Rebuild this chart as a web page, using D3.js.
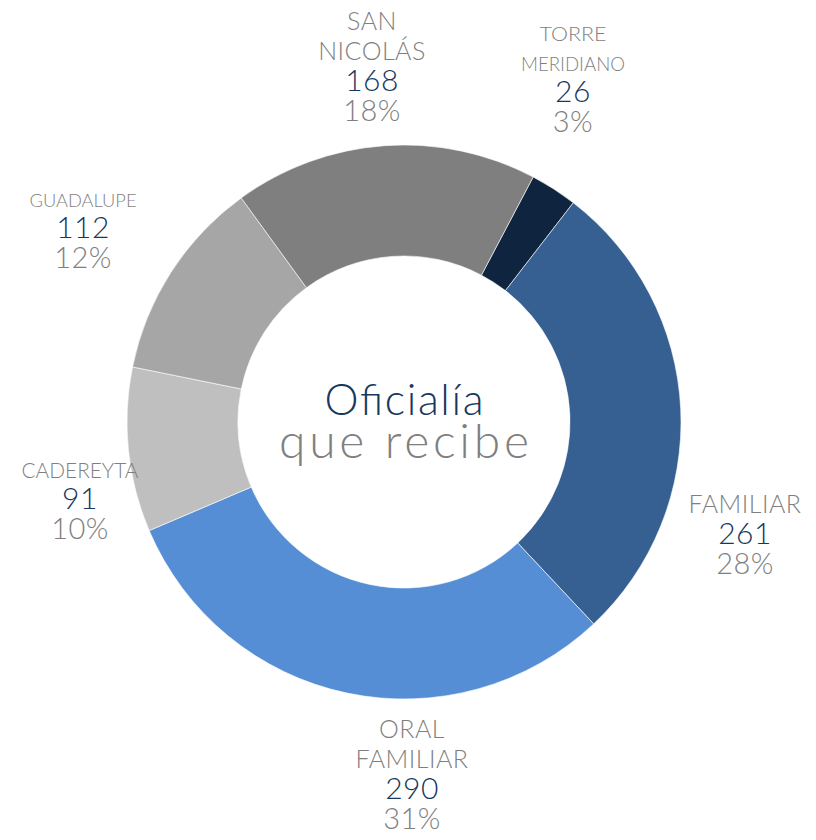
<!DOCTYPE html>
<html>
<head>
<meta charset="utf-8">
<script src="https://cdn.jsdelivr.net/npm/d3@7"></script>
<style>
  body { margin: 0; background: #fff; }
  svg { display: block; font-family: Lato, "Open Sans", sans-serif; font-weight: 300; }
</style>
</head>
<body>
<div class="root"></div>
<script>
// oficialias, clockwise from the first slice
var categories = ['TORRE MERIDIANO', 'FAMILIAR', 'ORAL FAMILIAR', 'CADEREYTA', 'GUADALUPE', 'SAN NICOLÁS'];
var values = [26, 261, 290, 91, 112, 168];
var percents = ['3%', '28%', '31%', '10%', '12%', '18%'];
var nameLines = [['TORRE', 'MERIDIANO'], ['FAMILIAR'], ['ORAL', 'FAMILIAR'], ['CADEREYTA'], ['GUADALUPE'], ['SAN', 'NICOLÁS']];
var colors = ['#0f243e', '#376092', '#558ed5', '#bfbfbf', '#a6a6a6', '#7f7f7f'];

// where each label block sits (x centre, baseline of first line), font size of the name, squeezed width
var labelLayout = [
  { x: 573, y: 41, size: 19, fit: [67, 104] },
  { x: 745, y: 513, size: 25 },
  { x: 412, y: 738, size: 25 },
  { x: 80, y: 478, size: 22, fit: [117] },
  { x: 83, y: 207, size: 18, fit: [107] },
  { x: 372, y: 30, size: 25 }
];

var w = 816, h = 840;
var cx = 404, cy = 422;
var outerR = 277, innerR = 166;

var svg = d3.select('.root').append('svg')
  .attr('width', w)
  .attr('height', h);

var pie = d3.pie()
  .sort(null)
  .startAngle(27.8 * Math.PI / 180)
  .endAngle((27.8 + 360) * Math.PI / 180)
  .value(function(d) { return d; });

var arc = d3.arc()
  .innerRadius(innerR)
  .outerRadius(outerR);

var g = svg.append('g').attr('transform', 'translate(' + cx + ',' + cy + ')');

g.selectAll('path')
  .data(pie(values))
  .enter().append('path')
    .attr('d', arc)
    .attr('fill', function(d, i) { return colors[i]; })
    .attr('stroke', '#fff')
    .attr('stroke-width', 0.6);

// centre title
g.append('text')
  .attr('text-anchor', 'middle')
  .attr('y', -7)
  .attr('fill', '#17375e')
  .attr('textLength', 159)
  .attr('lengthAdjust', 'spacing')
  .style('font-size', '43px')
  .text('Oficialía');
g.append('text')
  .attr('text-anchor', 'middle')
  .attr('y', 36)
  .attr('fill', '#7f7f7f')
  .attr('textLength', 250)
  .attr('lengthAdjust', 'spacing')
  .style('font-size', '48px')
  .text('que recibe');

// data labels
var labels = svg.append('g')
  .selectAll('g')
  .data(categories)
  .enter().append('g')
    .attr('transform', function(d, i) { return 'translate(' + labelLayout[i].x + ',' + labelLayout[i].y + ')'; })
    .attr('text-anchor', 'middle');

labels.each(function(d, i) {
  var el = d3.select(this);
  var L = labelLayout[i];
  var lines = nameLines[i];
  lines.forEach(function(line, k) {
    var t = el.append('text')
      .attr('y', k * 30)
      .attr('fill', '#7f7f7f')
      .style('font-size', L.size + 'px')
      .style('letter-spacing', L.fit ? null : '0.5px')
      .text(line);
    if (L.fit) t.attr('textLength', L.fit[k]).attr('lengthAdjust', 'spacingAndGlyphs');
  });
  var y0 = (lines.length - 1) * 30;
  el.append('text')
    .attr('y', y0 + 31)
    .attr('fill', '#17375e')
    .style('font-size', '30px')
    .style('letter-spacing', '0.5px')
    .text(values[i]);
  el.append('text')
    .attr('y', y0 + 61)
    .attr('fill', '#7f7f7f')
    .style('font-size', '29px')
    .style('letter-spacing', '0.5px')
    .text(percents[i]);
});
</script>
</body>
</html>
